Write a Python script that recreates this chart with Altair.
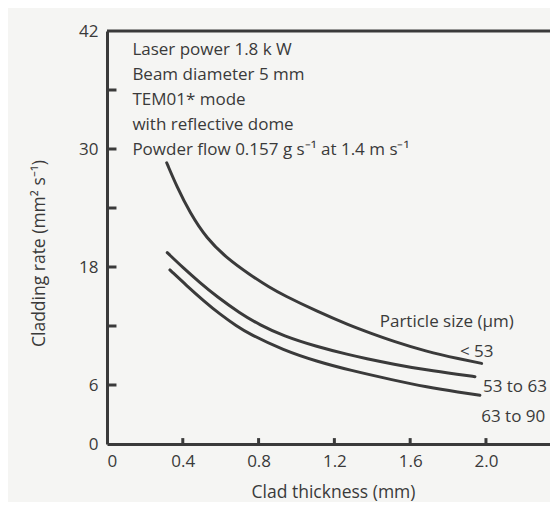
import altair as alt
import pandas as pd

# ---- data ----
x_lt53 = [0.315, 0.368, 0.438, 0.526, 0.632, 0.755, 0.860, 0.930, 1.107, 1.282, 1.388, 1.511, 1.687, 1.863, 1.977]
y_lt53 = [28.6, 26.2, 23.5, 20.9, 18.9, 17.2, 15.9, 15.15, 13.5, 12.05, 11.3, 10.45, 9.4, 8.65, 8.2]

x_53_63 = [0.318, 0.403, 0.491, 0.579, 0.702, 0.807, 0.930, 1.107, 1.282, 1.360, 1.511, 1.687, 1.863, 1.942]
y_53_63 = [19.46, 17.9, 16.4, 15.0, 13.3, 12.1, 11.0, 9.9, 9.05, 8.72, 8.12, 7.52, 7.05, 6.85]

x_63_90 = [0.332, 0.421, 0.508, 0.596, 0.684, 0.755, 0.930, 1.107, 1.282, 1.511, 1.687, 1.863, 1.968]
y_63_90 = [17.7, 16.1, 14.6, 13.2, 12.0, 11.15, 9.55, 8.4, 7.5, 6.5, 5.8, 5.25, 4.95]

series_names = ["< 53", "53 to 63", "63 to 90"]

x_tick_values = [0.4, 0.8, 1.2, 1.6, 2.0]
x_label_values = [0, 0.4, 0.8, 1.2, 1.6, 2.0]
y_tick_values = [6, 12, 18, 24, 30, 36]
y_label_values = [0, 6, 18, 30, 42]

note_lines = [
    "Laser power 1.8 k W",
    "Beam diameter 5 mm",
    "TEM01* mode",
    "with reflective dome",
    "Powder flow 0.157 g s\u207b\u00b9 at 1.4 m s\u207b\u00b9",
]

curve_labels = ["Particle size (\u03bcm)", "< 53", "53 to 63", "63 to 90"]
curve_label_x = [1.793, 1.951, 2.153, 2.144]
curve_label_y = [12.37, 9.38, 5.82, 2.77]

X_MAX = 2.338
Y_MAX = 42

INK = "#3a3a3a"
FONT = "Open Sans"
FS = 17

rows = []
for name, xs, ys in zip(series_names, [x_lt53, x_53_63, x_63_90], [y_lt53, y_53_63, y_63_90]):
    for i, (a, b) in enumerate(zip(xs, ys)):
        rows.append({"series": name, "x": a, "y": b, "order": i})
df = pd.DataFrame(rows)

xscale = alt.Scale(domain=[0, X_MAX], nice=False, zero=False)
yscale = alt.Scale(domain=[0, Y_MAX], nice=False, zero=False)

x_axis = alt.Axis(
    values=x_label_values,
    labelExpr="datum.value == 0 ? '0' : format(datum.value, '.1f')",
    labelAlign={"expr": "datum.value == 0 ? 'left' : 'center'"},
    ticks=False, grid=False,
    domainColor=INK, domainWidth=3,
    labelFont=FONT, labelFontSize=FS, labelColor=INK, labelPadding=9,
    title="Clad thickness (mm)", titleFont=FONT, titleFontSize=17.5,
    titleFontWeight="normal", titleColor=INK,
    titleX=226, titleY=48, titleBaseline="middle",
)
y_axis = alt.Axis(
    values=y_label_values,
    ticks=False, grid=False,
    domainColor=INK, domainWidth=3,
    labelFont=FONT, labelFontSize=FS, labelColor=INK, labelPadding=9,
    title="Cladding rate (mm\u00b2 s\u207b\u00b9)", titleFont=FONT, titleFontSize=17.5,
    titleFontWeight="normal", titleColor=INK,
    titleX=-63, titleY=222, titleAngle=-90, titleBaseline="alphabetic",
)

lines = alt.Chart(df).mark_line(
    interpolate="basis", strokeWidth=3, color=INK, strokeCap="round"
).encode(
    x=alt.X("x:Q", scale=xscale, axis=x_axis),
    y=alt.Y("y:Q", scale=yscale, axis=y_axis),
    detail="series:N",
    order="order:Q",
)

yt = alt.Chart(pd.DataFrame({"v": y_tick_values})).mark_rule(
    strokeWidth=3, color=INK
).encode(x=alt.datum(0), x2=alt.datum(0.05), y="v:Q")

xt = alt.Chart(pd.DataFrame({"v": x_tick_values})).mark_rule(
    strokeWidth=3, color=INK
).encode(x="v:Q", y=alt.datum(0), y2=alt.datum(0.6))

top = alt.Chart(pd.DataFrame({"a": [0]})).mark_rule(
    strokeWidth=3, color=INK
).encode(x=alt.datum(0), x2=alt.datum(X_MAX), y=alt.datum(Y_MAX))

notes = alt.Chart(pd.DataFrame({"a": [0]})).mark_text(
    text=note_lines, align="left", baseline="middle", lineHeight=25,
    font=FONT, fontSize=FS, color=INK,
).encode(x=alt.datum(0.134), y=alt.datum(40.06))

lab = alt.Chart(pd.DataFrame({"t": curve_labels, "x": curve_label_x, "y": curve_label_y})).mark_text(
    align="center", baseline="middle", font=FONT, fontSize=FS, color=INK,
).encode(x="x:Q", y="y:Q", text="t:N")

chart = alt.layer(top, yt, xt, lines, notes, lab).properties(
    width=443, height=413,
    autosize=alt.AutoSizeParams(type="none"),
    padding={"left": 99, "top": 23, "right": 0, "bottom": 58},
    background="#f5f5f3",
).configure_view(stroke=None)

chart.save("out.html", embed_options={"renderer": "svg", "actions": False})
